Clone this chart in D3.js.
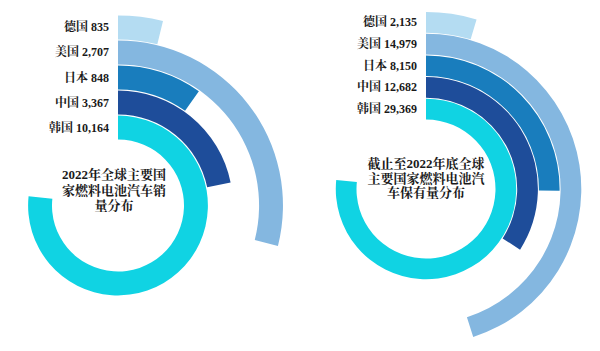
<!DOCTYPE html>
<html lang="zh">
<head>
    <meta charset="UTF-8">
    <title></title>
    <style type="text/css">
        body { margin:0; background:#fff }
        text { font-family: "Liberation Serif", "Noto Serif CJK SC", "Noto Sans CJK SC", serif; font-weight:bold; fill:#1a1a1a }
    </style>
</head>
<body>
<script src="https://d3js.org/d3.v7.min.js"></script>
<script>
    // rings from inside out
    var countries = ['韩国', '中国', '日本', '美国', '德国'];
    var sales2022 = [10164, 3367, 848, 2707, 835];
    var stock2022 = [29369, 12682, 8150, 14979, 2135];
    // arc sweep in degrees, as drawn in the original (not proportional to value)
    var salesSweep = [275.9, 78.5, 35.3, 104.2, 13.7];
    var stockSweep = [275.7, 122.8, 90.8, 162.3, 16.6];
    var colors = ['#10d3e3', '#1e4d9a', '#197dbd', '#84b7e0', '#b4dcf2'];

    var salesTitle = ['2022年全球主要国', '家燃料电池汽车销', '量分布'];
    var stockTitle = ['截止至2022年底全球', '主要国家燃料电池汽', '车保有量分布'];

    var width = 600,
        height = 351,
        svg = d3.select('body').append('svg')
                .attr('width', width)
                .attr('height', height);

    var angle = d3.scaleLinear().domain([0, 360]).range([0, 2 * Math.PI]);
    var fmt = d3.format(',');

    function renderRings(cx, cy, r0, r1, values, sweep, title, lineH) {
        var band = d3.scaleBand()
            .domain(countries)
            .range([r0, r1])
            .paddingInner(0.045);

        var arc = d3.arc()
            .innerRadius(function(d, i){ return band(countries[i]); })
            .outerRadius(function(d, i){ return band(countries[i]) + band.bandwidth(); })
            .startAngle(0)
            .endAngle(function(d, i){ return angle(sweep[i]); });

        var g = svg.append('g')
            .attr('transform', 'translate(' + cx + ',' + cy + ')');

        g.selectAll('path')
            .data(values)
            .enter()
            .append('path')
            .attr('d', arc)
            .attr('fill', function(d, i){ return colors[i]; });

        g.selectAll('text.label')
            .data(values)
            .enter()
            .append('text')
            .attr('class', 'label')
            .attr('x', -9)
            .attr('y', function(d, i){
                return -(band(countries[i]) + band.bandwidth() / 2);
            })
            .attr('text-anchor', 'end')
            .attr('dominant-baseline', 'central')
            .style('font-size', '12px')
            .text(function(d, i){ return countries[i] + ' ' + fmt(d); });

        var t = g.append('text')
            .attr('text-anchor', 'middle')
            .style('font-size', '13px');
        title.forEach(function(line, i){
            t.append('tspan')
                .attr('x', 0)
                .attr('y', (i - (title.length - 1) / 2) * lineH)
                .attr('dominant-baseline', 'central')
                .text(line);
        });
        return g;
    }

    var left = renderRings(118, 205.5, 66, 190, sales2022, salesSweep, salesTitle, 15.5);
    left.select('text:last-child').attr('transform', 'translate(-4,-15.5)');
    var right = renderRings(426, 189, 69.5, 177, stock2022, stockSweep, stockTitle, 14.7);
    right.select('text:last-child').attr('transform', 'translate(0,-11)');
</script>
</body>
</html>
